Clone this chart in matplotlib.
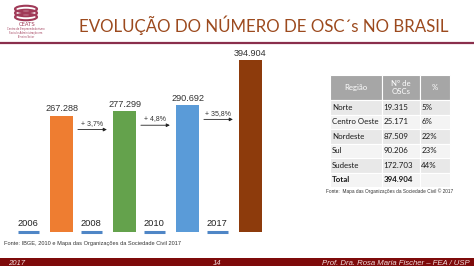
import numpy as np
import matplotlib
matplotlib.use("Agg")
import matplotlib.pyplot as plt
from matplotlib.patches import Rectangle, Ellipse
from matplotlib.transforms import ScaledTranslation

# ---- data ----
anos = ["2006", "2008", "2010", "2017"]
num_osc = [267288, 277299, 290692, 394904]
cores_barras = ["#ee7d31", "#64a24c", "#5a9bd8", "#8d3b0c"]

regioes = ["Norte", "Centro Oeste", "Nordeste", "Sul", "Sudeste", "Total"]
osc_regiao = [19315, 25171, 87509, 90206, 172703, 394904]
pct_regiao = ["5%", "6%", "22%", "23%", "44%", ""]
cabecalho = ["Região", "Nº de\nOSCs", "%"]

titulo = "EVOLUÇÃO DO NÚMERO DE OSC´s NO BRASIL"
fonte_grafico = "Fonte: IBGE, 2010 e Mapa das Organizações da Sociedade Civil 2017"
fonte_tabela = "Fonte:  Mapa das Organizações da Sociedade Civil © 2017"
rodape = ["2017", "14", "Prof. Dra. Rosa Maria Fischer – FEA / USP"]

W, H = 474, 266
fig = plt.figure(figsize=(W / 100, H / 100), dpi=100)
fig.patch.set_facecolor("white")


def fx(x):
    return x / W


def fy(y):
    return 1 - y / H


def fmt(v):
    return f"{v:,}".replace(",", ".")


# ---- header: logo, title, rule ----
logo = fig.add_axes([0, fy(40), fx(52), 40 / H])
logo.set_xlim(0, 52)
logo.set_ylim(40, 0)
logo.axis("off")
marrom_logo = "#a03a58"
for yy in [9, 13, 17]:
    logo.add_patch(Ellipse((26, yy), 22, 6.5, fill=False, ec=marrom_logo, lw=1.5))
logo.text(27, 25, "CEATS", ha="center", va="center", fontsize=3.8,
          color=marrom_logo, family="DejaVu Sans")
logo.text(26, 33, "Centro de Empreendedorismo\nSocial e Administração em\nTerceiro Setor",
          ha="center", va="center", fontsize=1.8, color=marrom_logo,
          linespacing=1.0, family="DejaVu Sans")

fig.text(fx(264), fy(25), titulo, ha="center", va="center", fontsize=12.2,
         color="#9c4a1e", family="Lato")
fig.add_artist(plt.Line2D([0, 1], [fy(43), fy(43)], color="#8a2f4c", lw=1.6,
                          transform=fig.transFigure))

# ---- bar chart ----
ax = fig.add_axes([fx(10), fy(232), fx(260), 187 / H])
ax.axis("off")
x_bar = np.arange(1, len(num_osc) + 1)
ax.set_xlim(0.1825, 0.1825 + 260 / 63)
ax.set_ylim(0, num_osc[-1] * 187 / 172)
ax.bar(x_bar, num_osc, width=0.365, color=cores_barras)

for x, v in zip(x_bar, num_osc):
    ax.annotate(fmt(v), (x, v), xytext=(0, 1.5), textcoords="offset points",
                ha="center", va="bottom", fontsize=6.6, color="#333333",
                family="Liberation Sans")

x_ano = x_bar - 0.53
for x, a in zip(x_ano, anos):
    ax.annotate(a, (x, 0), xytext=(0, 2.6), textcoords="offset points",
                ha="center", va="bottom", fontsize=6.7, color="#222222",
                family="Liberation Sans")
    ax.plot([x - 0.165, x + 0.165], [0, 0], color="#4f86c6", lw=2.2,
            solid_capstyle="butt", clip_on=False)

# growth arrows between consecutive bars
desloc = ax.transData + ScaledTranslation(0, -14 / 100, fig.dpi_scale_trans)
for i in range(len(num_osc) - 1):
    x0 = x_bar[i] + 0.26
    x1 = x_bar[i] + 0.72
    v = num_osc[i]
    cresc = (num_osc[i + 1] / num_osc[i] - 1) * 100
    ax.annotate("", xy=(x1, v), xytext=(x0, v), xycoords=desloc, textcoords=desloc,
                arrowprops=dict(arrowstyle="-|>", lw=0.6, color="#222222",
                                mutation_scale=5, shrinkA=0, shrinkB=0))
    ax.annotate(f"+ {cresc:.1f}%".replace(".", ","), ((x0 + x1) / 2, v),
                xycoords=desloc, xytext=(0, 2), textcoords="offset points",
                ha="center", va="bottom", fontsize=5, color="#333333",
                family="Liberation Sans")

fig.text(fx(4), fy(243), fonte_grafico, ha="left", va="center", fontsize=4.1,
         color="#333333", family="Liberation Sans")

# ---- regional table ----
tx0, tx1, ty0, ty1 = 330, 450, 75, 187
tab_ax = fig.add_axes([fx(tx0), fy(ty1), fx(tx1 - tx0), (ty1 - ty0) / H])
tab_ax.axis("off")
linhas = [[r, fmt(n), p] for r, n, p in zip(regioes, osc_regiao, pct_regiao)]
col_w = np.array([52, 38, 30]) / 120
tab = tab_ax.table(cellText=linhas, colLabels=cabecalho, colWidths=list(col_w),
                   cellLoc="left", bbox=[0, 0, 1, 1])
tab.auto_set_font_size(False)
fundo = ["#e8e8e8", "#f4f4f4"]
for (r, c), cell in tab.get_celld().items():
    cell.set_edgecolor("white")
    cell.set_linewidth(0.8)
    cell.PAD = 0.04
    txt = cell.get_text()
    txt.set_family("Lato")
    if r == 0:
        cell.set_height(25)
        cell.set_facecolor("#a6a6a6")
        txt.set_color("white")
        txt.set_fontsize(5.6)
        if c > 0:
            txt.set_ha("center")
            cell._loc = "center"
    else:
        cell.set_height(14.4)
        cell.set_facecolor(fundo[(r - 1) % 2])
        txt.set_color("#1a1a1a")
        txt.set_fontsize(5.7)
        if r == len(linhas):
            txt.set_weight("bold")

fig.text(fx(326), fy(191), fonte_tabela, ha="left", va="center", fontsize=3.4,
         color="#333333", family="Liberation Sans")

# ---- footer band ----
fig.add_artist(Rectangle((0, 0), 1, fy(258), transform=fig.transFigure,
                         facecolor="#7e0a0a", edgecolor="none"))
estilo_rod = dict(va="center", fontsize=5.6, color="#f3dede", style="italic",
                  family="Liberation Sans")
fig.text(fx(8), fy(263.5), rodape[0], ha="left", **estilo_rod)
fig.text(fx(217), fy(263.5), rodape[1], ha="center", **estilo_rod)
fig.text(fx(470), fy(263.5), rodape[2], ha="right", **estilo_rod)

fig.savefig("out.png", dpi=100)
